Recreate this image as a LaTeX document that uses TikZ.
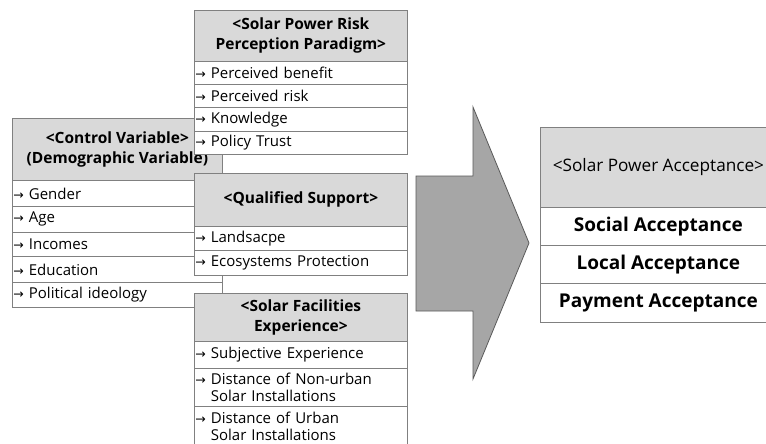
\documentclass[tikz,border=0pt]{standalone}
\usepackage{fontspec}
\setmainfont{Open Sans}
\newfontfamily\arrowfont{DejaVu Sans}
\usepackage{xcolor}
\definecolor{line-gray}{HTML}{808080}
\definecolor{head-gray}{HTML}{D9D9D9}
\definecolor{arrow-gray}{HTML}{A6A6A6}
\definecolor{arrow-edge}{HTML}{5A5A5A}
\newcommand{\itemarr}{{\arrowfont\fontsize{12.5}{12.5}\selectfont\char"2192}\ }

\tikzset{
  headbox/.style={draw=line-gray, line width=0.8pt, fill=head-gray, anchor=north west,
    align=center, inner sep=0pt, font=\bfseries\fontsize{15.5}{20}\selectfont},
  itembox/.style={draw=line-gray, line width=0.8pt, fill=white, anchor=north west,
    align=left, inner xsep=1pt, inner ysep=0pt, font=\fontsize{15}{17.5}\selectfont},
  acceptbox/.style={draw=line-gray, line width=0.8pt, fill=white, anchor=north west,
    inner sep=0pt, font=\bfseries\fontsize{19}{22}\selectfont},
}

\begin{document}
\begin{tikzpicture}[x=1pt, y=-1pt]
    \clip (0,0) rectangle (766,444);
    \fill[white] (0,0) rectangle (766,444);

    \node[headbox, minimum width=210pt, minimum height=62pt] (ctrlhead) at (12,118)
          {<Control Variable>\\(Demographic Variable)};
    \node[itembox, text width=208pt, minimum height=26pt] (ctrlgender) at (12,180) {\itemarr Gender};
    \node[itembox, text width=208pt, minimum height=26pt] (ctrlage) at (12,206) {\itemarr Age};
    \node[itembox, text width=208pt, minimum height=24pt] (ctrlincome) at (12,232) {\itemarr Incomes};
    \node[itembox, text width=208pt, minimum height=26pt] (ctrledu) at (12,256) {\itemarr Education};
    \node[itembox, text width=208pt, minimum height=25pt] (ctrlpolitic) at (12,282) {\itemarr Political ideology};

    \node[headbox, minimum width=213pt, minimum height=51pt] (riskhead) at (194,10)
          {<Solar Power Risk\\Perception Paradigm>};
    \node[itembox, text width=211pt, minimum height=23pt] (riskbenefit) at (194,61) {\itemarr Perceived benefit};
    \node[itembox, text width=211pt, minimum height=23pt] (riskrisk) at (194,84) {\itemarr Perceived risk};
    \node[itembox, text width=211pt, minimum height=24pt] (riskknow) at (194,107) {\itemarr Knowledge};
    \node[itembox, text width=211pt, minimum height=23pt] (risktrust) at (194,131) {\itemarr Policy Trust};

    \node[headbox, minimum width=213pt, minimum height=53pt] (qualhead) at (194,173)
          {<Qualified Support>};
    \node[itembox, text width=211pt, minimum height=24pt] (qualland) at (194,226) {\itemarr Landsacpe};
    \node[itembox, text width=211pt, minimum height=25pt] (qualeco) at (194,250) {\itemarr Ecosystems Protection};

    \node[headbox, minimum width=213pt, minimum height=48pt] (fachead) at (194,293)
          {<Solar Facilities\\Experience>};
    \node[itembox, text width=211pt, minimum height=27pt] (facsubj) at (194,341) {\itemarr Subjective Experience};
    \node[itembox, text width=211pt, minimum height=38pt] (facrural) at (194,368)
          {\itemarr Distance of Non-urban\\\phantom{\itemarr}Solar Installations};
    \node[itembox, text width=211pt, minimum height=40pt] (facurban) at (194,406)
          {\itemarr Distance of Urban\\\phantom{\itemarr}Solar Installations};

    \draw[draw=arrow-edge, fill=arrow-gray, line width=0.8pt]
      (416,176) -- (473,176) -- (473,107) -- (529,243) -- (473,379) -- (473,311) -- (416,311) -- cycle;

    \node[headbox, minimum width=236pt, minimum height=80pt, font=\fontsize{17.2}{21}\selectfont]
          (accepthead) at (540,127) {<Solar Power Acceptance>};
    \node[acceptbox, minimum width=236pt, minimum height=38pt] (acceptsocial) at (540,207) {Social Acceptance};
    \node[acceptbox, minimum width=236pt, minimum height=38pt] (acceptlocal) at (540,245) {Local Acceptance};
    \node[acceptbox, minimum width=236pt, minimum height=39pt] (acceptpay) at (540,283) {Payment Acceptance};
\end{tikzpicture}
\end{document}
